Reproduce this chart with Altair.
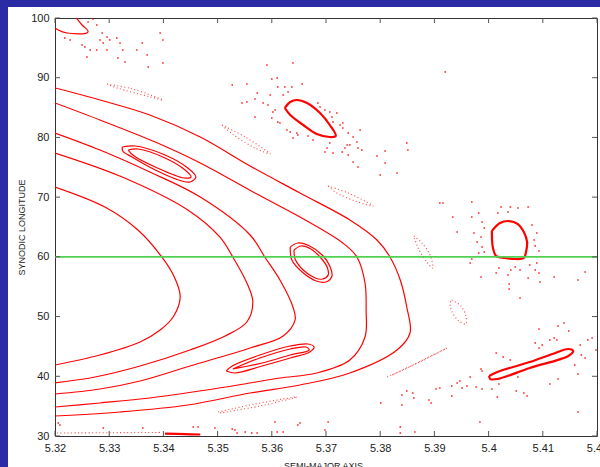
import altair as alt
import pandas as pd

# ---------------- data ----------------
X_TICKS = [5.32, 5.33, 5.34, 5.35, 5.36, 5.37, 5.38, 5.39, 5.40, 5.41, 5.42]
Y_TICKS = [30, 40, 50, 60, 70, 80, 90, 100]
REFERENCE_LONGITUDE = [60]

# nested horseshoe / tadpole curves (outermost = 5)
HORSESHOE_1 = [(5.3200, 71.70), (5.3292, 68.35), (5.3353, 64.50), (5.3397, 59.98), (5.3421, 56.46),
               (5.3431, 53.28), (5.3418, 49.93), (5.3394, 47.75), (5.3357, 45.74), (5.3283, 43.56),
               (5.3200, 41.89)]
HORSESHOE_2 = [(5.3200, 77.39), (5.3324, 73.37), (5.3445, 67.85), (5.3504, 63.33), (5.3528, 59.98),
               (5.3554, 55.62), (5.3565, 52.44), (5.3554, 49.09), (5.3514, 46.75), (5.3449, 44.40),
               (5.3357, 41.72), (5.3274, 39.88), (5.3200, 38.88)]
HORSESHOE_3 = [(5.3200, 80.74), (5.3283, 77.89), (5.3375, 74.21), (5.3468, 70.02), (5.3560, 63.66),
               (5.3587, 59.98), (5.3615, 56.12), (5.3639, 51.60), (5.3643, 49.43), (5.3621, 46.75),
               (5.3560, 44.74), (5.3449, 41.72), (5.3357, 39.21), (5.3283, 37.87), (5.3200, 37.03)]
HORSESHOE_4 = [(5.3200, 85.77), (5.3283, 82.92), (5.3385, 79.23), (5.3468, 75.72), (5.3569, 70.69),
               (5.3652, 66.67), (5.3731, 62.32), (5.3757, 59.98), (5.3772, 55.62), (5.3774, 51.10),
               (5.3772, 46.58), (5.3744, 42.73), (5.3683, 40.55), (5.3615, 39.71), (5.3560, 38.88),
               (5.3480, 37.70), (5.3375, 36.36), (5.3283, 35.53), (5.3200, 34.86)]
HORSESHOE_5 = [(5.3200, 88.28), (5.3283, 86.27), (5.3375, 83.76), (5.3468, 80.07), (5.3560, 75.22),
               (5.3652, 70.69), (5.3744, 66.17), (5.3794, 62.82), (5.3818, 59.98), (5.3837, 56.12),
               (5.3849, 51.60), (5.3855, 47.25), (5.3831, 44.40), (5.3744, 40.55), (5.3652, 38.54),
               (5.3560, 37.20), (5.3445, 35.19), (5.3320, 34.02), (5.3200, 33.35)]

# double-walled islands
ISLAND_UL_OUTER = [(5.3324, 78.40), (5.3348, 78.56), (5.3403, 77.06), (5.3445, 74.88), (5.3460, 73.37),
                   (5.3449, 72.54), (5.3434, 72.70), (5.3385, 74.55), (5.3342, 76.72), (5.3325, 77.73),
                   (5.3324, 78.40)]
ISLAND_UL_INNER = [(5.3335, 77.89), (5.3353, 78.06), (5.3403, 76.56), (5.3440, 74.55), (5.3451, 73.37),
                   (5.3438, 73.21), (5.3385, 75.05), (5.3346, 76.89), (5.3335, 77.89)]
ISLAND_MID_OUTER = [(5.3634, 61.65), (5.3648, 62.32), (5.3670, 61.82), (5.3693, 60.31), (5.3707, 58.47),
                    (5.3711, 56.79), (5.3700, 55.79), (5.3682, 55.96), (5.3656, 57.46), (5.3637, 59.47),
                    (5.3634, 61.65)]
ISLAND_MID_INNER = [(5.3641, 61.15), (5.3654, 61.82), (5.3672, 61.32), (5.3689, 59.98), (5.3702, 58.30),
                    (5.3704, 56.96), (5.3694, 56.29), (5.3680, 56.46), (5.3658, 57.80), (5.3643, 59.64),
                    (5.3641, 61.15)]
ISLAND_LOW_OUTER = [(5.3516, 40.89), (5.3527, 41.72), (5.3578, 43.56), (5.3634, 45.07), (5.3667, 45.41),
                    (5.3678, 44.90), (5.3670, 44.07), (5.3634, 43.06), (5.3582, 41.72), (5.3532, 40.55),
                    (5.3516, 40.89)]
ISLAND_LOW_INNER = [(5.3528, 41.22), (5.3578, 43.06), (5.3634, 44.57), (5.3663, 44.90), (5.3669, 44.40),
                    (5.3634, 43.56), (5.3582, 42.22), (5.3528, 41.22)]
CORNER_ISLAND = [(5.3196, 98.66), (5.3206, 97.99), (5.3222, 97.49), (5.3259, 97.49), (5.3261, 97.82),
                 (5.3250, 98.83), (5.3235, 100.50)]

# thick single-walled islands
ISLAND_TOP = [(5.3624, 84.93), (5.3634, 85.93), (5.3646, 86.27), (5.3665, 85.77), (5.3689, 84.09),
              (5.3707, 82.08), (5.3718, 80.24), (5.3707, 80.07), (5.3683, 80.57), (5.3658, 82.08),
              (5.3634, 83.76), (5.3624, 84.93)]
ISLAND_RIGHT = [(5.4006, 64.33), (5.4021, 65.67), (5.4038, 66.00), (5.4054, 65.50), (5.4065, 64.16),
                (5.4071, 62.49), (5.4069, 60.81), (5.4065, 59.81), (5.4049, 59.64), (5.4030, 59.81),
                (5.4014, 60.14), (5.4008, 61.48), (5.4006, 64.33)]
ISLAND_LOW_RIGHT = [(5.4001, 40.05), (5.4016, 40.72), (5.4076, 42.39), (5.4123, 43.90), (5.4147, 44.57),
                    (5.4156, 44.23), (5.4147, 43.40), (5.4076, 41.39), (5.4016, 39.54), (5.4003, 39.54),
                    (5.4001, 40.05)]

# faint dotted chains
CHAIN_A = [(5.3296, 88.95), (5.3344, 88.10), (5.3399, 86.27), (5.3375, 86.80), (5.3314, 88.30), (5.3296, 88.95)]
CHAIN_B = [(5.3508, 82.08), (5.3551, 80.07), (5.3597, 77.22), (5.3569, 78.23), (5.3527, 80.57), (5.3508, 82.08)]
CHAIN_C = [(5.3704, 71.87), (5.3741, 70.69), (5.3787, 68.52), (5.3754, 69.35), (5.3717, 70.86), (5.3704, 71.87)]
CHAIN_D = [(5.3862, 63.49), (5.3877, 62.32), (5.3892, 60.31), (5.3897, 58.13), (5.3886, 59.14), (5.3870, 61.48),
           (5.3862, 63.49)]
CHAIN_E = [(5.3932, 52.77), (5.3949, 51.77), (5.3958, 50.10), (5.3958, 48.76), (5.3945, 49.26), (5.3932, 50.93),
           (5.3929, 52.27), (5.3932, 52.77)]
CHAIN_F = [(5.3813, 39.88), (5.3864, 42.06), (5.3923, 44.74), (5.3873, 42.40), (5.3818, 40.05)]
CHAIN_G = [(5.3501, 34.02), (5.3569, 35.36), (5.3646, 36.53), (5.3578, 35.02), (5.3504, 33.85)]
CHAIN_BOTTOM = [(5.3204, 30.50), (5.3300, 30.55), (5.3394, 30.60)]
BOTTOM_SEGMENT = [(5.3403, 30.40), (5.3440, 30.30), (5.3468, 30.25)]

# scattered chaotic points
SCATTER = [
    (5.3270, 99.83), (5.3261, 99.33), (5.3277, 98.83), (5.3287, 97.49), (5.3296, 96.82), (5.3283, 96.32),
    (5.3289, 95.81), (5.3277, 94.64), (5.3265, 94.64), (5.3255, 95.14), (5.3250, 95.48), (5.3259, 93.47),
    (5.3296, 94.64), (5.3301, 96.32), (5.3314, 96.65), (5.3320, 95.81), (5.3325, 94.64), (5.3316, 93.30),
    (5.3329, 92.63), (5.3351, 94.64), (5.3361, 95.81), (5.3370, 93.80), (5.3372, 91.79), (5.3394, 97.49),
    (5.3399, 96.32), (5.3399, 92.46), (5.3228, 96.32), (5.3218, 96.65),
    (5.3591, 92.13), (5.3639, 92.46), (5.3610, 89.95), (5.3600, 89.78), (5.3554, 88.95), (5.3527, 88.78),
    (5.3611, 88.45), (5.3624, 88.45), (5.3637, 88.45), (5.3656, 88.95), (5.3621, 87.11), (5.3630, 87.61),
    (5.3597, 87.11), (5.3573, 87.44), (5.3569, 86.44), (5.3584, 85.77), (5.3545, 85.77), (5.3554, 85.93),
    (5.3593, 85.43), (5.3606, 84.59), (5.3602, 84.26), (5.3611, 82.58), (5.3615, 82.42), (5.3600, 83.25),
    (5.3569, 83.42), (5.3628, 81.24), (5.3634, 80.91), (5.3646, 80.74), (5.3639, 79.90), (5.3648, 80.41),
    (5.3667, 80.24), (5.3676, 79.57), (5.3685, 85.77), (5.3689, 85.10), (5.3698, 84.59), (5.3707, 84.26),
    (5.3720, 84.09), (5.3711, 83.42), (5.3713, 82.58), (5.3731, 82.42), (5.3726, 82.08), (5.3731, 81.58),
    (5.3741, 80.74), (5.3750, 80.07), (5.3757, 79.23), (5.3739, 78.73), (5.3735, 78.23), (5.3744, 78.73),
    (5.3759, 78.23), (5.3766, 77.89), (5.3763, 81.24), (5.3730, 77.56), (5.3713, 77.39), (5.3702, 78.23),
    (5.3707, 79.07), (5.3698, 77.56), (5.3794, 76.89), (5.3809, 77.73), (5.3849, 79.07), (5.3851, 77.89),
    (5.3920, 90.96), (5.3831, 74.04), (5.3809, 75.72), (5.3800, 73.71), (5.3759, 75.05), (5.3750, 75.89),
    (5.3741, 77.06), (5.3910, 69.02),
    (5.3916, 69.02), (5.3969, 69.19), (5.4023, 68.35), (5.4040, 68.35), (5.4054, 68.18), (5.4073, 68.35),
    (5.4017, 67.34), (5.4036, 67.51), (5.3982, 67.34), (5.3969, 66.67), (5.3934, 66.67), (5.3988, 65.84),
    (5.3992, 64.83), (5.3973, 64.00), (5.3986, 63.32), (5.3979, 62.49), (5.3988, 61.65), (5.3992, 60.81),
    (5.3982, 60.65), (5.3969, 59.64), (5.3942, 64.16), (5.4080, 65.33), (5.4089, 64.00), (5.4084, 62.82),
    (5.4086, 61.82), (5.4093, 60.98), (5.4089, 58.97), (5.4076, 58.64), (5.4086, 57.80), (5.4058, 57.80),
    (5.4049, 58.30), (5.4041, 57.80), (5.4019, 58.13), (5.4014, 57.30), (5.4036, 56.96), (5.4073, 56.46),
    (5.4095, 55.79), (5.4093, 57.30), (5.4038, 55.46), (5.4038, 54.62), (5.4058, 53.11), (5.3986, 56.63),
    (5.4121, 56.63), (5.4165, 56.12), (5.4178, 57.46), (5.3966, 58.97),
    (5.4093, 47.92), (5.4128, 48.42), (5.4139, 48.92), (5.4148, 47.58), (5.4113, 46.08), (5.4121, 46.41),
    (5.4126, 46.08), (5.4169, 45.24), (5.4183, 46.08), (5.4191, 46.41), (5.4198, 44.40), (5.4093, 44.74),
    (5.4099, 45.24), (5.4086, 45.58), (5.4159, 41.89), (5.4178, 43.06), (5.4171, 43.56), (5.4014, 43.90),
    (5.4027, 43.23), (5.4040, 42.73), (5.3986, 41.22), (5.3988, 40.89), (5.3966, 39.88), (5.3947, 39.21),
    (5.3942, 38.88), (5.3932, 38.37), (5.3951, 38.04), (5.3960, 38.37), (5.3977, 38.21), (5.3988, 37.87),
    (5.4006, 37.87), (5.4019, 38.71), (5.4051, 37.54), (5.4071, 36.70), (5.4113, 38.71), (5.4128, 39.54),
    (5.4165, 40.38), (5.4054, 39.88), (5.3910, 38.04), (5.3903, 37.87), (5.3862, 36.36), (5.3894, 35.53),
    (5.3932, 36.70), (5.3849, 37.54), (5.3837, 31.51), (5.3984, 32.34), (5.4165, 34.02), (5.3801, 35.53),
    (5.3840, 36.87), (5.3840, 35.19), (5.3860, 37.20), (5.3890, 36.03), (5.4016, 36.53), (5.4065, 37.20),
    (5.3864, 30.67), (5.3837, 30.50),
    (5.3206, 32.18), (5.3209, 31.84), (5.3289, 31.34), (5.3362, 31.34), (5.3455, 31.51), (5.3464, 31.51),
    (5.3495, 31.34), (5.3527, 31.17), (5.3532, 31.00), (5.3536, 30.50), (5.3551, 30.67), (5.3563, 30.50),
    (5.3573, 30.50), (5.3606, 32.34), (5.3610, 30.67), (5.3621, 30.67), (5.3652, 32.18), (5.3648, 31.84),
    (5.3698, 31.00), (5.3704, 32.34),
]


def to_frame(groups):
    rows = []
    for name, pts in groups.items():
        for i, (x, y) in enumerate(pts):
            rows.append({"id": name, "o": i, "x": x, "y": y})
    return pd.DataFrame(rows)


thin_df = to_frame({
    "h1": HORSESHOE_1, "h2": HORSESHOE_2, "h3": HORSESHOE_3, "h4": HORSESHOE_4, "h5": HORSESHOE_5,
    "ulo": ISLAND_UL_OUTER, "uli": ISLAND_UL_INNER, "mo": ISLAND_MID_OUTER, "mi": ISLAND_MID_INNER,
    "lo": ISLAND_LOW_OUTER, "li": ISLAND_LOW_INNER, "corner": CORNER_ISLAND,
})
thick_df = to_frame({"top": ISLAND_TOP, "right": ISLAND_RIGHT, "lowright": ISLAND_LOW_RIGHT,
                     "seg": BOTTOM_SEGMENT})
dotted_df = to_frame({"a": CHAIN_A, "b": CHAIN_B, "c": CHAIN_C, "d": CHAIN_D, "e": CHAIN_E,
                      "f": CHAIN_F, "g": CHAIN_G, "bottom": CHAIN_BOTTOM})
scatter_df = pd.DataFrame(SCATTER, columns=["x", "y"])

RED = "#ff0000"
FONT = "Liberation Sans"
W, H = 542, 418

xscale = alt.Scale(domain=[5.32, 5.42], nice=False, zero=False)
yscale = alt.Scale(domain=[30, 100], nice=False, zero=False)

x_axis = alt.Axis(values=X_TICKS, format=".2~f", ticks=False, domain=False, grid=False,
                  labelFlush=False, labelPadding=6, labelFontSize=11, labelColor="#222",
                  labelFont=FONT, title="SEMI-MAJOR AXIS", titleFont=FONT, titleFontSize=9,
                  titleFontWeight="normal", titleColor="#222", titleX=268, titleY=25,
                  titleBaseline="top", titleAlign="center", zindex=1)
y_axis = alt.Axis(values=Y_TICKS, ticks=False, domain=False, grid=False, labelPadding=6,
                  labelFontSize=11, labelColor="#222", labelFont=FONT, labelFlush=False,
                  title="SYNODIC LONGITUDE", titleFont=FONT, titleFontSize=9,
                  titleFontWeight="normal", titleColor="#222", titleX=-34, titleY=209,
                  titleAlign="center", titleBaseline="middle", titleAngle=-90, zindex=1)

# identical encodings (same axis) in every layer, so the shared axes merge cleanly
X = alt.X("x:Q", scale=xscale, axis=x_axis)
Y = alt.Y("y:Q", scale=yscale, axis=y_axis)

thin = alt.Chart(thin_df).mark_line(
    clip=True, interpolate="catmull-rom", color=RED, strokeWidth=1.2
).encode(x=X, y=Y, detail="id:N", order="o:Q")

thick = alt.Chart(thick_df).mark_line(
    clip=True, interpolate="catmull-rom", color=RED, strokeWidth=2.2
).encode(x=X, y=Y, detail="id:N", order="o:Q")

dotted = alt.Chart(dotted_df).mark_line(
    clip=True, interpolate="catmull-rom", color=RED, strokeWidth=1.1, opacity=0.75,
    strokeDash=[1, 2.5]
).encode(x=X, y=Y, detail="id:N", order="o:Q")

dots = alt.Chart(scatter_df).mark_square(
    clip=True, size=2.5, color=RED, opacity=0.85
).encode(x=X, y=Y)

green = alt.Chart(pd.DataFrame({"y": REFERENCE_LONGITUDE})).mark_rule(
    color="#4fd24f", strokeWidth=1.6
).encode(y=Y)

xt = pd.DataFrame({"x": X_TICKS})
yt = pd.DataFrame({"y": Y_TICKS})
TICK = "#555555"
tick_bottom = alt.Chart(xt).mark_rule(color=TICK, strokeWidth=1).encode(
    x=X, y=alt.value(H), y2=alt.value(H - 5))
tick_top = alt.Chart(xt).mark_rule(color=TICK, strokeWidth=1).encode(
    x=X, y=alt.value(0), y2=alt.value(5))
tick_left = alt.Chart(yt).mark_rule(color=TICK, strokeWidth=1).encode(
    y=Y, x=alt.value(0), x2=alt.value(5))
tick_right = alt.Chart(yt).mark_rule(color=TICK, strokeWidth=1).encode(
    y=Y, x=alt.value(W - 5), x2=alt.value(W))

one = pd.DataFrame({"a": [0]})
BLUE = "#2b2ba6"
strip_left = alt.Chart(one).mark_rect(color=BLUE, clip=False).encode(
    x=alt.value(-56), x2=alt.value(-47), y=alt.value(-19), y2=alt.value(H + 32))
strip_top = alt.Chart(one).mark_rect(color=BLUE, clip=False).encode(
    x=alt.value(-56), x2=alt.value(W + 4), y=alt.value(-19), y2=alt.value(-11))

chart = alt.layer(
    thin, thick, dotted, dots, green,
    tick_bottom, tick_top, tick_left, tick_right,
    strip_left, strip_top,
).properties(
    width=W, height=H,
    autosize=alt.AutoSizeParams(type="none"),
    padding={"left": 55, "top": 18, "right": 3, "bottom": 31},
    background="white",
).configure_view(
    stroke="#333333", strokeWidth=1
)

chart.save("out.html", embed_options={"renderer": "svg", "actions": False})
